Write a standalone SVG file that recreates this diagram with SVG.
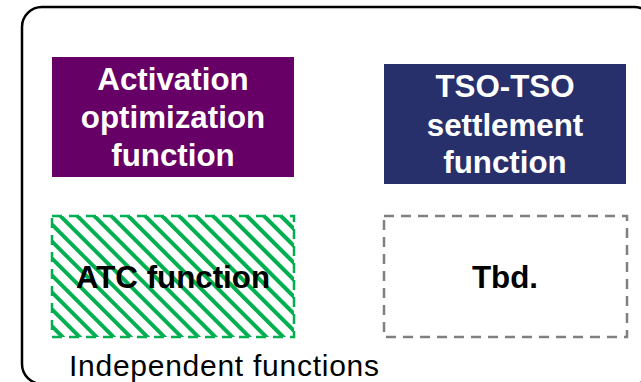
<svg xmlns="http://www.w3.org/2000/svg" width="641" height="382" viewBox="0 0 641 382">
<style>
.t{font-family:"Liberation Sans",Arial,sans-serif;font-weight:bold;font-size:31.3px;text-anchor:middle}
.w{fill:#ffffff}
.k{fill:#000000}
</style>
<defs>
<pattern id="hatch" patternUnits="userSpaceOnUse" width="12" height="12" patternTransform="rotate(45)">
<rect x="0" y="0" width="12" height="12" fill="#ffffff"/>
<rect x="0" y="0" width="12" height="4" fill="#00B050"/>
</pattern>
</defs>
<rect x="22" y="7" width="632" height="377" rx="20" ry="20" fill="#ffffff" stroke="#000000" stroke-width="2.5"/>
<g id="activation">
<rect x="52" y="57" width="242" height="120" fill="#660066"/>
<text class="t w" x="173" y="90">Activation</text>
<text class="t w" x="173" y="128">optimization</text>
<text class="t w" x="173" y="166">function</text>
</g>
<g id="settlement">
<rect x="384" y="64" width="242" height="120" fill="#27306B"/>
<text class="t w" x="505" y="97">TSO-TSO</text>
<text class="t w" x="505" y="136">settlement</text>
<text class="t w" x="505" y="173">function</text>
</g>
<g id="atc">
<rect x="52" y="216" width="242" height="121" fill="url(#hatch)" stroke="#00B050" stroke-width="2.5" stroke-dasharray="10 7"/>
<text class="t k" x="173" y="288">ATC function</text>
</g>
<g id="tbd">
<rect x="384" y="216" width="243" height="121" fill="none" stroke="#808080" stroke-width="2.5" stroke-dasharray="10 7"/>
<text class="t k" x="505" y="288">Tbd.</text>
</g>
<g id="connectors"></g>
<text x="69" y="376" font-family="Liberation Sans, Arial, sans-serif" font-size="30" textLength="310" fill="#000000">Independent functions</text>
</svg>
